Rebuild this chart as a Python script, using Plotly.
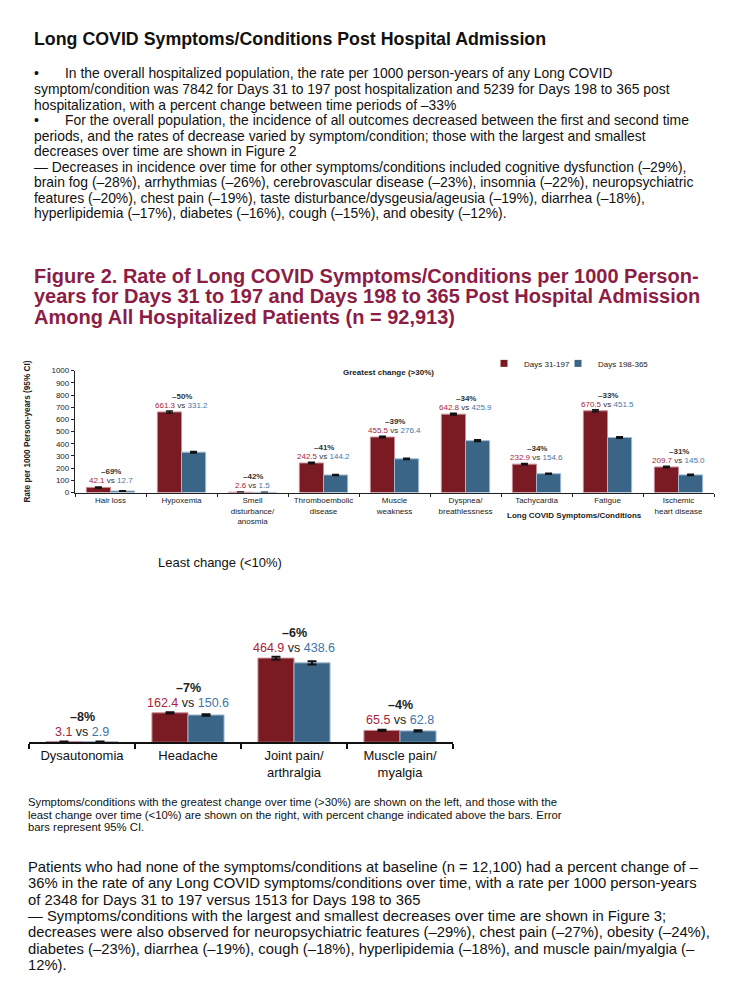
import plotly.graph_objects as go

W, H = 734, 981

# ---------------- data ----------------
top_categories = ["Hair loss", "Hypoxemia", "Smell<br>disturbance/<br>anosmia",
                  "Thromboembolic<br>disease", "Muscle<br>weakness", "Dyspnea/<br>breathlessness",
                  "Tachycardia", "Fatigue", "Ischemic<br>heart disease"]
top_days_31_197 = [42.1, 661.3, 2.6, 242.5, 455.5, 642.8, 232.9, 670.5, 209.7]
top_days_198_365 = [12.7, 331.2, 1.5, 144.2, 276.4, 425.9, 154.6, 451.5, 145.0]
top_pct_change = [-69, -50, -42, -41, -39, -34, -34, -33, -31]
top_err_31_197 = [4, 8, 0.6, 5, 6, 7, 5, 8, 5]
top_err_198_365 = [2, 6, 0.5, 4, 5, 6, 4, 6, 4]

bot_categories = ["Dysautonomia", "Headache", "Joint pain/<br>arthralgia", "Muscle pain/<br>myalgia"]
bot_days_31_197 = [3.1, 162.4, 464.9, 65.5]
bot_days_198_365 = [2.9, 150.6, 438.6, 62.8]
bot_pct_change = [-8, -7, -6, -4]
bot_err_31_197 = [0.6, 4, 8, 3]
bot_err_198_365 = [0.6, 4, 9, 3]

top_yticks = list(range(0, 1001, 100))

# ---------------- styles ----------------
RED = "#7a1b24"
BLUE = "#3a6587"
RED_TXT = "#a8243c"
BLUE_TXT = "#3f76a8"
MAROON = "#8c1d45"
NARROW = "Liberation Sans Narrow, Arial Narrow, Liberation Sans, Arial, sans-serif"
SANS = "Liberation Sans, Arial, Helvetica, sans-serif"


def px(x):
    return x / W


def py(y):
    return 1 - y / H


fig = go.Figure()

# top chart bars
fig.add_trace(go.Bar(x=top_categories, y=top_days_31_197, name="Days 31-197",
                     marker=dict(color=RED, line=dict(color="#c98a92", width=1)),
                     error_y=dict(type="data", array=top_err_31_197, color="#111", thickness=1.6, width=3.5),
                     xaxis="x", yaxis="y", showlegend=False))
fig.add_trace(go.Bar(x=top_categories, y=top_days_198_365, name="Days 198-365",
                     marker=dict(color=BLUE, line=dict(color="#9dbad3", width=1)),
                     error_y=dict(type="data", array=top_err_198_365, color="#111", thickness=1.6, width=3.5),
                     xaxis="x", yaxis="y", showlegend=False))

# bottom chart bars
fig.add_trace(go.Bar(x=bot_categories, y=bot_days_31_197, name="Days 31-197",
                     marker=dict(color=RED, line=dict(color="#c98a92", width=1)),
                     error_y=dict(type="data", array=bot_err_31_197, color="#111", thickness=2, width=4.5),
                     xaxis="x2", yaxis="y2", showlegend=False))
fig.add_trace(go.Bar(x=bot_categories, y=bot_days_198_365, name="Days 198-365",
                     marker=dict(color=BLUE, line=dict(color="#9dbad3", width=1)),
                     error_y=dict(type="data", array=bot_err_198_365, color="#111", thickness=2, width=4.5),
                     xaxis="x2", yaxis="y2", showlegend=False))

# legend entries (small squares), one legend box each for exact placement
for nm, col, lg in [("Days 31-197", RED, "legend"), ("Days 198-365", BLUE, "legend2")]:
    fig.add_trace(go.Scatter(x=[None], y=[None], mode="markers", name=nm,
                             marker=dict(symbol="square", size=7, color=col),
                             xaxis="x", yaxis="y", showlegend=True, legend=lg))

annotations = []


def txt(s, x, y, size, color="#111", family=NARROW, xanchor="left", **kw):
    annotations.append(dict(text=s, x=px(x), y=py(y), xref="paper", yref="paper",
                            xanchor=xanchor, yanchor="middle", showarrow=False,
                            font=dict(size=size, color=color, family=family), **kw))


# ---------- page text ----------
txt("<b>Long COVID Symptoms/Conditions Post Hospital Admission</b>", 24, 27, 17.8)

body = [
    (True, "In the overall hospitalized population, the rate per 1000 person-years of any Long COVID"),
    (False, "symptom/condition was 7842 for Days 31 to 197 post hospitalization and 5239 for Days 198 to 365 post"),
    (False, "hospitalization, with a percent change between time periods of \u201333%"),
    (True, "For the overall population, the incidence of all outcomes decreased between the first and second time"),
    (False, "periods, and the rates of decrease varied by symptom/condition; those with the largest and smallest"),
    (False, "decreases over time are shown in Figure 2"),
    (False, "\u2014 Decreases in incidence over time for other symptoms/conditions included cognitive dysfunction (\u201329%),"),
    (False, "brain fog (\u201328%), arrhythmias (\u201326%), cerebrovascular disease (\u201323%), insomnia (\u201322%), neuropsychiatric"),
    (False, "features (\u201320%), chest pain (\u201319%), taste disturbance/dysgeusia/ageusia (\u201319%), diarrhea (\u201318%),"),
    (False, "hyperlipidemia (\u201317%), diabetes (\u201316%), cough (\u201315%), and obesity (\u201312%)."),
]
for i, (bullet, line) in enumerate(body):
    y = 62 + i * 15.7
    if bullet:
        txt("\u2022", 24, y, 14)
        txt(line, 55, y, 13.9)
    else:
        txt(line, 24, y, 13.9)

fig_title = [
    "Figure 2. Rate of Long COVID Symptoms/Conditions per 1000 Person-",
    "years for Days 31 to 197 and Days 198 to 365 Post Hospital Admission",
    "Among All Hospitalized Patients (n = 92,913)",
]
for i, line in enumerate(fig_title):
    txt("<b>" + line + "</b>", 24, 266 + i * 21, 20.0, color=MAROON)

# ---------- top chart text ----------
txt("<b>Greatest change (>30%)</b>", 381, 364, 8, color="#222", family=SANS, xanchor="center")
txt("<b>Long COVID Symptoms/Conditions</b>", 566, 508, 8, color="#222", family=SANS, xanchor="center")

for c, a, b, p in zip(top_categories, top_days_31_197, top_days_198_365, top_pct_change):
    top = max(a, b)
    annotations.append(dict(x=c, y=top, xref="x", yref="y", yanchor="bottom", yshift=1,
                            showarrow=False, borderpad=0,
                            text=f"<span style='color:{RED_TXT}'>{a:.1f}</span> vs "
                                 f"<span style='color:{BLUE_TXT}'>{b:.1f}</span>",
                            font=dict(size=8, color="#333", family=SANS)))
    annotations.append(dict(x=c, y=top, xref="x", yref="y", yanchor="bottom", yshift=10,
                            showarrow=False, borderpad=0, text=f"<b>\u2013{abs(p)}%</b>",
                            font=dict(size=8, color="#333", family=SANS)))

# ---------- bottom chart text ----------
txt("Least change (<10%)", 148, 556, 13, color="#111")

for c, a, b, p in zip(bot_categories, bot_days_31_197, bot_days_198_365, bot_pct_change):
    top = max(a, b)
    annotations.append(dict(x=c, y=top, xref="x2", yref="y2", yanchor="bottom", yshift=2,
                            showarrow=False, borderpad=0,
                            text=f"<span style='color:{RED_TXT}'>{a:.1f}</span> vs "
                                 f"<span style='color:{BLUE_TXT}'>{b:.1f}</span>",
                            font=dict(size=12.5, color="#222", family=NARROW)))
    annotations.append(dict(x=c, y=top, xref="x2", yref="y2", yanchor="bottom", yshift=17,
                            showarrow=False, borderpad=0, text=f"<b>\u2013{abs(p)}%</b>",
                            font=dict(size=12.5, color="#222", family=NARROW)))

# ---------- captions ----------
caption = [
    "Symptoms/conditions with the greatest change over time (>30%) are shown on the left, and those with the",
    "least change over time (<10%) are shown on the right, with percent change indicated above the bars. Error",
    "bars represent 95% CI.",
]
for i, line in enumerate(caption):
    txt(line, 18, 797 + i * 13, 11.3)

bottom_par = [
    "Patients who had none of the symptoms/conditions at baseline (n = 12,100) had a percent change of \u2013",
    "36% in the rate of any Long COVID symptoms/conditions over time, with a rate per 1000 person-years",
    "of 2348 for Days 31 to 197 versus 1513 for Days 198 to 365",
    "\u2014 Symptoms/conditions with the largest and smallest decreases over time are shown in Figure 3;",
    "decreases were also observed for neuropsychiatric features (\u201329%), chest pain (\u201327%), obesity (\u201324%),",
    "diabetes (\u201323%), diarrhea (\u201319%), cough (\u201318%), hyperlipidemia (\u201318%), and muscle pain/myalgia (\u2013",
    "12%).",
]
for i, line in enumerate(bottom_par):
    txt(line, 18, 863 + i * 16.5, 14.8)

legend_common = dict(orientation="h", xanchor="left", yanchor="top",
                     font=dict(size=8, family=SANS, color="#222"), bgcolor="rgba(0,0,0,0)",
                     itemwidth=30)

fig.update_layout(
    width=W, height=H,
    margin=dict(l=0, r=0, t=0, b=0),
    paper_bgcolor="white", plot_bgcolor="white",
    barmode="group", bargap=0.32, bargroupgap=0,
    font=dict(family=SANS, color="#222"),
    annotations=annotations,
    legend=dict(x=px(476), y=py(340), **legend_common),
    legend2=dict(x=px(550), y=py(340), **legend_common),
    xaxis=dict(domain=[px(67), px(706)], anchor="y", showline=True, linecolor="#222", linewidth=1.3,
               ticks="outside", tickson="boundaries", ticklen=3, tickcolor="#222",
               tickfont=dict(size=8, family=SANS, color="#222"), showgrid=False, fixedrange=True),
    yaxis=dict(domain=[py(485), py(362)], anchor="x", range=[0, 1000], tickvals=top_yticks,
               showline=True, linecolor="#222", linewidth=1.3, ticks="outside", ticklen=3,
               tickcolor="#222", tickfont=dict(size=8, family=SANS, color="#222"), showgrid=False,
               zeroline=False,
               title=dict(text="<b>Rate per 1000 Person-years (95% CI)</b>", standoff=19,
                          font=dict(size=8.2, family=SANS, color="#222"))),
    xaxis2=dict(domain=[px(21), px(445)], anchor="y2", showline=True, linecolor="#111", linewidth=2.2,
                ticks="outside", tickson="boundaries", ticklen=5, tickwidth=1.5, tickcolor="#111",
                tickfont=dict(size=13, family=NARROW, color="#111"), showgrid=False),
    yaxis2=dict(domain=[py(737), py(600)], anchor="x2", range=[0, 750], visible=False),
)

fig.write_html("out.html")
